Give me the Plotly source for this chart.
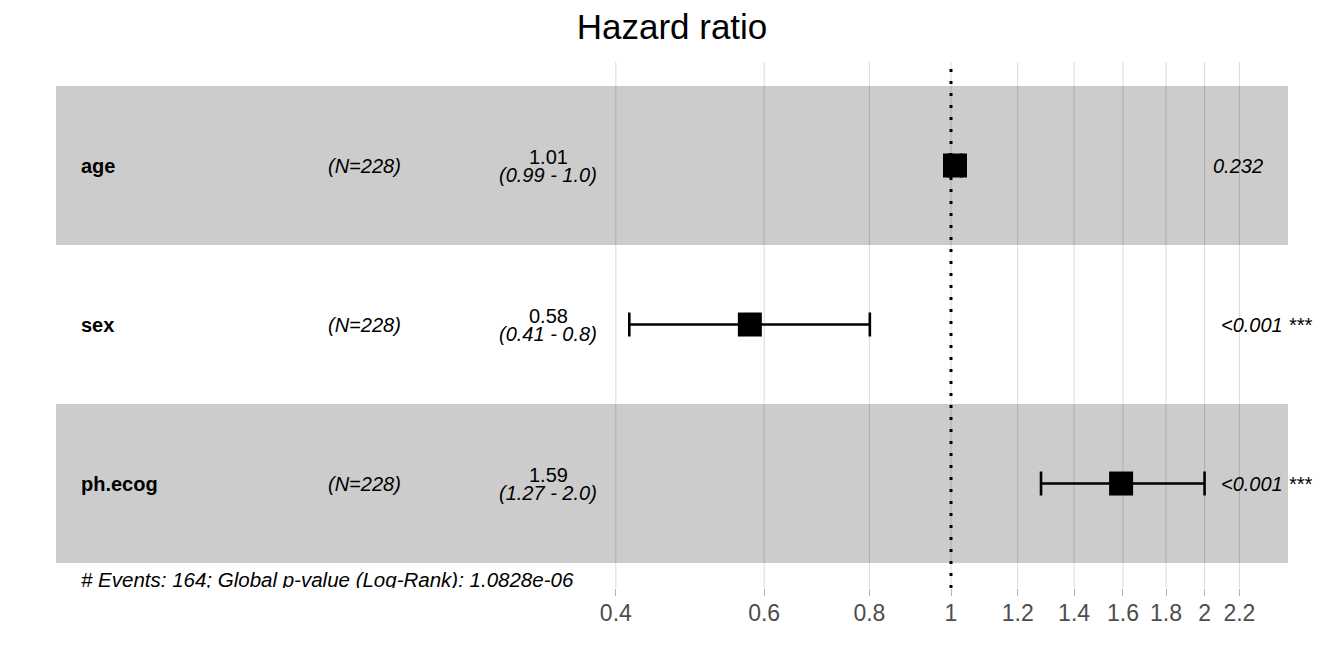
import plotly.graph_objects as go

# ---------------- data ----------------
variables = ["age", "sex", "ph.ecog"]
n_obs = [228, 228, 228]
hr = [1.011, 0.577, 1.592]
ci_low = [0.993, 0.415, 1.279]
ci_high = [1.029, 0.801, 2.000]
hr_labels = ["1.01", "0.58", "1.59"]
ci_labels = ["(0.99 - 1.0)", "(0.41 - 0.8)", "(1.27 - 2.0)"]
p_labels = ["0.232", "<0.001 ***", "<0.001 ***"]
tick_vals = [0.4, 0.6, 0.8, 1, 1.2, 1.4, 1.6, 1.8, 2, 2.2]
tick_text = ["0.4", "0.6", "0.8", "1", "1.2", "1.4", "1.6", "1.8", "2", "2.2"]
n_events = 164
global_p = "1.0828e-06"

# ---------------- layout constants ----------------
W, H = 1344, 672
ML, MR, MT, MB = 56, 56, 62, 84
PW = W - ML - MR
X_RANGE = [-1.0626, 0.4001]          # log10 units
Y_RANGE = [3.657, 0.349]             # reversed, rows at 1..n
FONT = "Liberation Sans, Arial, Helvetica, sans-serif"
ANN_SIZE = 20

rows = list(range(1, len(variables) + 1))


def px_to_paper(px):
    return (px - ML) / PW


def paper_to_data(p):
    return 10 ** (X_RANGE[0] + p * (X_RANGE[1] - X_RANGE[0]))


ARIAL_W = {c: 0.556 for c in "0123456789"}
ARIAL_W.update({".": 0.278, "<": 0.584, " ": 0.278, "*": 0.389})


def text_width(s, size):
    return sum(ARIAL_W.get(c, 0.556) for c in s) * size


fig = go.Figure()

# CI bars + point estimates
fig.add_trace(go.Scatter(
    x=hr, y=rows, mode="markers",
    marker=dict(symbol="square", size=24, color="black", line=dict(width=0)),
    error_x=dict(type="data", symmetric=False,
                 array=[h - e for h, e in zip(ci_high, hr)],
                 arrayminus=[e - l for e, l in zip(hr, ci_low)],
                 color="black", thickness=2.6, width=12),
    showlegend=False, hoverinfo="skip", cliponaxis=False,
))

# footnote, clipped by the panel like the original
fig.add_trace(go.Scatter(
    x=[paper_to_data(px_to_paper(81))], y=[len(variables) + 0.5 + 0.057],
    mode="text",
    text=[f"<i># Events: {n_events}; Global p-value (Log-Rank): {global_p}</i>"],
    textposition="bottom right",
    textfont=dict(family=FONT, size=20.5, color="black"),
    showlegend=False, hoverinfo="skip", cliponaxis=True,
))

shapes = []
for r in rows:
    if r % 2 == 1:
        shapes.append(dict(type="rect", xref="paper", yref="y", x0=0, x1=1,
                           y0=r - 0.5, y1=r + 0.5, fillcolor="rgba(0,0,0,0.2)",
                           line=dict(width=0), layer="between"))
# vertical grid lines, drawn over the bands (translucent, as in the original)
for tv in tick_vals:
    shapes.append(dict(type="line", xref="x", yref="paper", x0=tv, x1=tv, y0=0, y1=1,
                       line=dict(color="rgba(0,0,0,0.15)", width=1), layer="between"))
shapes.append(dict(type="line", xref="x", yref="paper", x0=1, x1=1, y0=0, y1=1,
                   line=dict(color="black", width=3, dash="3px,9px"), layer="above"))

annotations = []
for r, v, n, hl, cl, pl in zip(rows, variables, n_obs, hr_labels, ci_labels, p_labels):
    annotations.append(dict(x=px_to_paper(79), y=r, xref="paper", yref="y",
                            text=f"<b>{v}</b>", xanchor="left", yanchor="middle",
                            showarrow=False, font=dict(family=FONT, size=ANN_SIZE, color="black")))
    annotations.append(dict(x=px_to_paper(326), y=r, xref="paper", yref="y",
                            text=f"<i>(N={n})</i>", xanchor="left", yanchor="middle",
                            showarrow=False, font=dict(family=FONT, size=ANN_SIZE, color="black")))
    annotations.append(dict(x=px_to_paper(548), y=r, xref="paper", yref="y",
                            text=hl, xanchor="center", yanchor="middle", yshift=9,
                            showarrow=False, font=dict(family=FONT, size=ANN_SIZE, color="black")))
    annotations.append(dict(x=px_to_paper(548), y=r, xref="paper", yref="y",
                            text=f"<i>{cl}</i>", xanchor="center", yanchor="middle", yshift=-9,
                            showarrow=False, font=dict(family=FONT, size=ANN_SIZE, color="black")))
    px_left = 1201 + 0.2 * text_width(pl, ANN_SIZE)
    annotations.append(dict(x=px_to_paper(px_left), y=r, xref="paper", yref="y",
                            text=f"<i>{pl}</i>", xanchor="left", yanchor="middle",
                            showarrow=False, font=dict(family=FONT, size=ANN_SIZE, color="black")))

fig.update_layout(
    width=W, height=H, autosize=False,
    margin=dict(l=ML, r=MR, t=MT, b=MB, pad=0),
    paper_bgcolor="white", plot_bgcolor="white",
    font=dict(family=FONT),
    title=dict(text="Hazard ratio", x=0.5, xanchor="center", xref="paper",
               y=1 - 27 / H, yanchor="middle", yref="container",
               font=dict(family=FONT, size=35, color="black")),
    xaxis=dict(type="log", range=X_RANGE, tickvals=tick_vals, ticktext=tick_text,
               showgrid=False,
               ticks="outside", ticklen=7, tickcolor="#b3b3b3", tickwidth=1,
               ticklabelstandoff=-3,
               tickfont=dict(family=FONT, size=23, color="#4d4d4d"),
               showline=False, zeroline=False, fixedrange=True),
    yaxis=dict(range=Y_RANGE, showgrid=False, showticklabels=False, zeroline=False,
               showline=False, ticks="", fixedrange=True),
    shapes=shapes, annotations=annotations,
)

fig.write_html("out.html")
